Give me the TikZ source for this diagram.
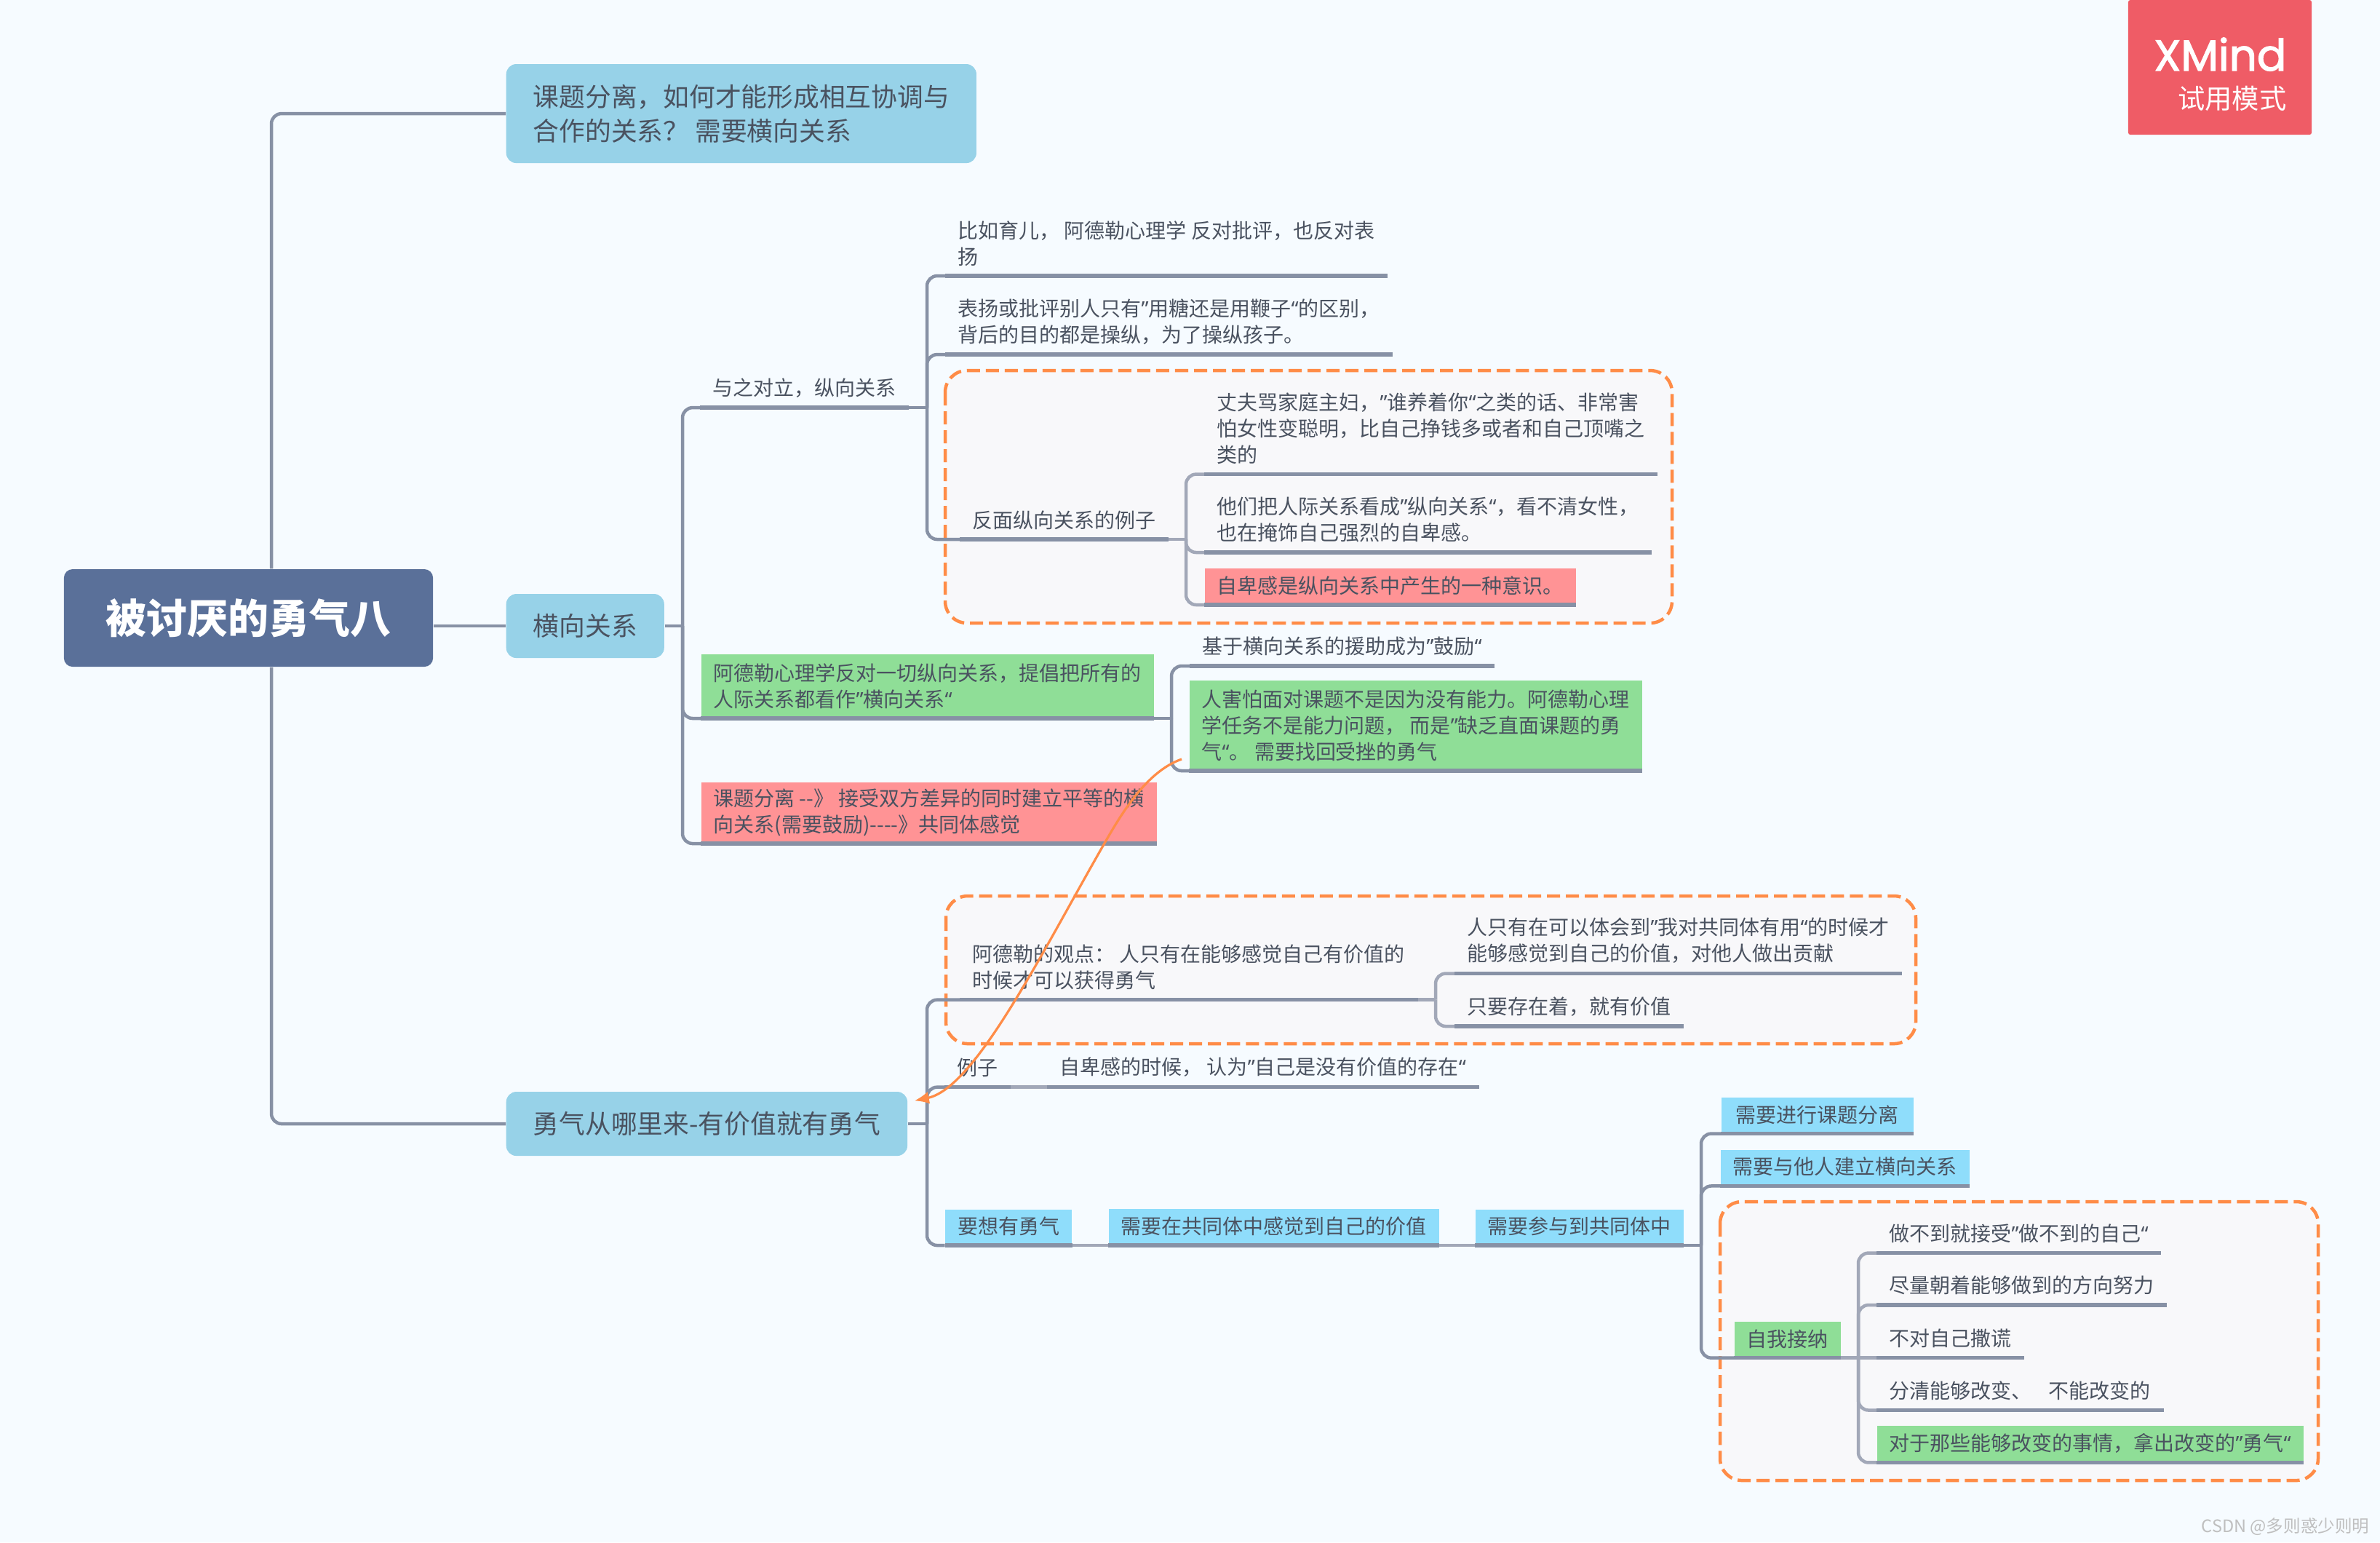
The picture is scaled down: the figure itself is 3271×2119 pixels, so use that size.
\documentclass[tikz,border=0pt]{standalone}
\usepackage{fontspec}
\setmainfont{Noto Sans CJK SC}
\newfontfamily\quotefont{Noto Sans}
\newfontfamily\logofont[FakeBold=2]{Poppins}
\usetikzlibrary{arrows.meta}
\newcommand{\opq}{{\quotefont ”}}
\newcommand{\clq}{{\quotefont “}}
\definecolor{pagebg}{HTML}{F6FBFF}
\definecolor{rootblue}{HTML}{5A7099}
\definecolor{topicblue}{HTML}{97D2E8}
\definecolor{inkgray}{HTML}{4A5260}
\definecolor{linegray}{HTML}{8791A5}
\definecolor{linelight}{HTML}{A2A8B8}
\definecolor{greenfill}{HTML}{8FDE97}
\definecolor{redfill}{HTML}{FF9395}
\definecolor{cyanfill}{HTML}{8FDDFB}
\definecolor{fenceorange}{HTML}{FF8C47}
\definecolor{fencefill}{HTML}{F8F8FA}
\definecolor{logored}{HTML}{EF5C66}
\tikzset{
    note/.style={font=\fontsize{7.96}{10.24}\selectfont,text=inkgray,align=left,
        anchor=south west,inner xsep=0.17cm,inner ysep=0.13cm},
    panel/.style={note,inner ysep=0.125cm,fill=#1},
    strip/.style={panel=#1,text height=0.215cm},
    topic/.style={font=\fontsize{10.17}{13.5}\selectfont,text=inkgray,align=left,
        anchor=west,fill=topicblue,rounded corners=0.14cm,inner xsep=0.37cm,inner ysep=0pt},
    link/.style={draw=linegray,line width=0.045cm},
    linkin/.style={draw=linelight,line width=0.045cm},
    elbow/.style={rounded corners=0.14cm},
    fence/.style={draw=fenceorange,fill=fencefill,line width=0.045cm,
        dash pattern=on 0.18cm off 0.08cm,rounded corners=0.3cm},
    rulebar/.style={draw=linegray,line width=0.055cm},
    relation/.style={draw=fenceorange,line width=0.032cm,->,
        >={Latex[length=0.2cm,width=0.17cm]}},
}
\begin{document}
\begin{tikzpicture}[x=0.01cm,y=-0.01cm]
    \fill[pagebg] (0,0) rectangle (3271,2119);

    \draw[fence] (1299,509) rectangle (2298,856);
    \draw[fence] (1300,1231) rectangle (2633,1434);
    \draw[fence] (2364,1651) rectangle (3186,2034);

    \node[fill=rootblue,rounded corners=0.12cm,minimum width=5.07cm,minimum height=1.34cm,
        font=\fontsize{15.9}{18}\selectfont\bfseries,text=white] (rootnode) at (341.5,849) {被讨厌的勇气八};
    \node[topic,minimum height=1.36cm] (septopic) at (695,156) {课题分离，如何才能形成相互协调与\\合作的关系？ 需要横向关系};
    \node[topic,minimum height=0.88cm] (horiz) at (695,860) {横向关系};
    \node[topic,minimum height=0.88cm] (courage) at (695,1544) {勇气从哪里来-有价值就有勇气};

    \node[note] (vert) at (962,560) {与之对立，纵向关系};
    \node[panel=greenfill] (adler) at (963,987) {阿德勒心理学反对一切纵向关系，提倡把所有的\\人际关系都看作\opq 横向关系\clq};
    \node[panel=redfill,inner ysep=0.09cm] (diff) at (963,1159) {课题分离 -{}-》 接受双方差异的同时建立平等的横\\向关系(需要鼓励)-{}-{}-{}-》共同体感觉};

    \node[note] (child) at (1299,379) {比如育儿， 阿德勒心理学 反对批评，也反对表\\扬};
    \node[note] (praise) at (1299,487) {表扬或批评别人只有\opq 用糖还是用鞭子\clq 的区别，\\背后的目的都是操纵，为了操纵孩子。};
    \node[note] (badcase) at (1319,741) {反面纵向关系的例子};
    \node[note] (husband) at (1655,651.5) {丈夫骂家庭主妇，\opq 谁养着你\clq 之类的话、非常害\\怕女性变聪明，比自己挣钱多或者和自己顶嘴之\\类的};
    \node[note] (theyview) at (1655,759) {他们把人际关系看成\opq 纵向关系\clq ，看不清女性，\\也在掩饰自己强烈的自卑感。};
    \node[strip=redfill] (inferior) at (1655,831) {自卑感是纵向关系中产生的一种意识。};

    \node[note] (encourage) at (1635,915) {基于横向关系的援助成为\opq 鼓励\clq};
    \node[panel=greenfill] (fear) at (1634,1059) {人害怕面对课题不是因为没有能力。阿德勒心理\\学任务不是能力问题， 而是\opq 缺乏直面课题的勇\\气\clq 。 需要找回受挫的勇气};

    \node[note] (adlerview) at (1319,1373.6) {阿德勒的观点： 人只有在能够感觉自己有价值的\\时候才可以获得勇气};
    \node[note] (feelval) at (1999,1337.5) {人只有在可以体会到\opq 我对共同体有用\clq 的时候才\\能够感觉到自己的价值，对他人做出贡献};
    \node[note] (exist) at (1999,1410) {只要存在着，就有价值};
    \node[note] (examp) at (1298,1493.6) {例子};
    \node[note] (lowself) at (1439,1493.6) {自卑感的时候， 认为\opq 自己是没有价值的存在\clq};

    \node[strip=cyanfill] (want) at (1298.5,1711) {要想有勇气};
    \node[strip=cyanfill] (feelin) at (1523,1711) {需要在共同体中感觉到自己的价值};
    \node[strip=cyanfill] (joinin) at (2027,1711) {需要参与到共同体中};
    \node[strip=cyanfill,inner xsep=0.2cm] (sepneed) at (2365,1557.5) {需要进行课题分离};
    \node[strip=cyanfill] (horizneed) at (2364,1629.4) {需要与他人建立横向关系};
    \node[strip=greenfill] (accept) at (2383,1865.6) {自我接纳};
    \node[note] (cannot) at (2579,1721.5) {做不到就接受\opq 做不到的自己\clq};
    \node[note] (tryhard) at (2579,1793) {尽量朝着能够做到的方向努力};
    \node[note] (nolie) at (2579,1865.6) {不对自己撒谎};
    \node[note] (tellapart) at (2579,1937.5) {分清能够改变、\hspace{0.17cm} 不能改变的};
    \node[strip=greenfill] (bravely) at (2579,2009.4) {对于那些能够改变的事情，拿出改变的\opq 勇气\clq};

    \coordinate (spmain) at (373,849);
    \coordinate (sphoriz) at (938,860);
    \coordinate (spvert) at (1274,560);
    \coordinate (spbad) at (1630,741);
    \coordinate (spadler) at (1610,987);
    \coordinate (spcour) at (1274,1544);
    \coordinate (spview) at (1973,1373.6);
    \coordinate (spjoin) at (2338,1711);
    \coordinate (spacc) at (2554,1865.6);

    \draw[link] (rootnode.east |- horiz.west) -- (horiz.west);
    \draw[link,elbow] (rootnode.north -| spmain) |- (septopic.west);
    \draw[link,elbow] (rootnode.south -| spmain) |- (courage.west);

    \draw[link] (horiz.east) -- (sphoriz);
    \foreach \n in {vert,adler,diff}{
        \draw[link,elbow] (sphoriz) |- (\n.south west);
    }
    \draw[link] (vert.south east) -- (spvert);
    \foreach \n in {child,praise,badcase}{
        \draw[link,elbow] (spvert) |- (\n.south west);
    }
    \draw[linkin] (badcase.south east) -- (spbad);
    \foreach \n in {husband,theyview,inferior}{
        \draw[linkin,elbow] (spbad) |- (\n.south west);
    }
    \draw[link] (adler.south east) -- (spadler);
    \foreach \n in {encourage,fear}{
        \draw[link,elbow] (spadler) |- (\n.south west);
    }
    \draw[link] (courage.east) -- (spcour);
    \foreach \n in {adlerview,examp,want}{
        \draw[link,elbow] (spcour) |- (\n.south west);
    }
    \draw[linkin] (adlerview.south east) -- (spview);
    \foreach \n in {feelval,exist}{
        \draw[linkin,elbow] (spview) |- (\n.south west);
    }
    \draw[linkin] (examp.south east) -- (lowself.south west);
    \draw[linkin] (want.south east) -- (feelin.south west);
    \draw[linkin] (feelin.south east) -- (joinin.south west);
    \draw[link] (joinin.south east) -- (spjoin);
    \foreach \n in {sepneed,horizneed,accept}{
        \draw[link,elbow] (spjoin) |- (\n.south west);
    }
    \draw[linkin] (accept.south east) -- (nolie.south west);
    \foreach \n in {cannot,tryhard,tellapart,bravely}{
        \draw[linkin,elbow] (spacc) |- (\n.south west);
    }

    \foreach \n in {vert,adler,diff,child,praise,badcase,husband,theyview,inferior,encourage,fear,
        adlerview,feelval,exist,examp,lowself,want,feelin,joinin,sepneed,horizneed,accept,
        cannot,tryhard,nolie,tellapart,bravely}{
        \draw[rulebar] (\n.south west) -- (\n.south east);
    }

    \draw[relation] ([shift={(-10,-16)}]fear.south west) .. controls (1575,1060) and (1540,1120) .. (1516,1162)
        .. controls (1430,1312) and (1340,1495) .. ([shift={(9,13)}]courage.north east);

    \node[fill=logored,rounded corners=0.03cm,minimum width=2.52cm,minimum height=1.85cm] (logobox) at (3051,92.5) {};
    \node[anchor=base east,text=white,inner sep=0pt,font=\logofont\fontsize{17}{18}\selectfont] (logoname) at (3143,97) {XMind};
    \node[anchor=east,text=white,inner sep=0pt,font=\fontsize{10.6}{12}\selectfont] (logomode) at (3143,135) {试用模式};
    \node[anchor=east,text=black!25,inner sep=0pt,font=\fontsize{6.7}{8}\selectfont] (mark) at (3257,2098) {CSDN @多则惑少则明};
\end{tikzpicture}
\end{document}
